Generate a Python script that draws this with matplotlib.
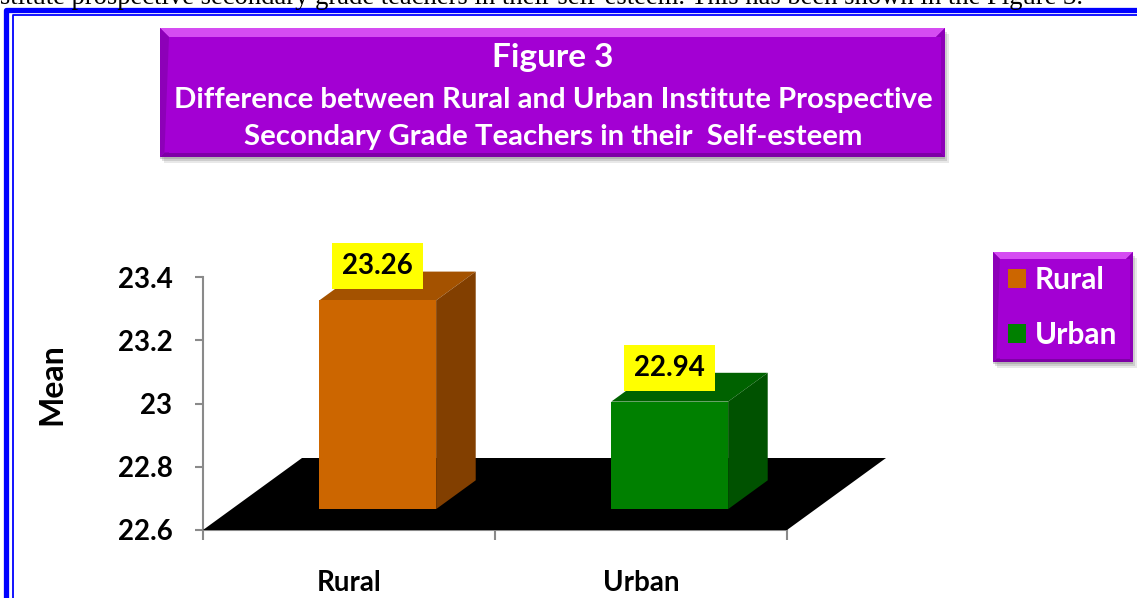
import matplotlib
matplotlib.use('Agg')
import matplotlib.pyplot as plt
from matplotlib.patches import Polygon, Rectangle

# ---------------- data ----------------
categories = ['Rural', 'Urban']
means = [23.26, 22.94]
value_labels = ['23.26', '22.94']
y_ticks = [22.6, 22.8, 23.0, 23.2, 23.4]
y_tick_labels = ['22.6', '22.8', '23', '23.2', '23.4']
title_lines = ['Figure 3',
               'Difference between Rural and Urban Institute Prospective',
               'Secondary Grade Teachers in their  Self-esteem']
y_label = 'Mean'
intro_text = ('institute prospective secondary grade teachers in their self-esteem. '
              'This has been shown in the Figure 3.')

# ---------------- styles ----------------
front_colors = ['#CC6600', '#008000']
top_colors = ['#A45200', '#006200']
side_colors = ['#823F00', '#005200']
FONT = 'Lato'
PURPLE = '#A300D3'

W, H = 1137, 598
fig = plt.figure(figsize=(W / 100, H / 100), dpi=100)
fig.patch.set_facecolor('white')


def fx(px):
    return px / W


def fy(py):
    return 1 - py / H


# background / decoration axes in pixel coordinates
bg = fig.add_axes([0, 0, 1, 1], zorder=0)
bg.set_xlim(0, W)
bg.set_ylim(H, 0)
bg.axis('off')

# intro text line (cut off at the top, as in the source page)
fig.text(fx(1083), fy(4), intro_text, ha='right', va='baseline',
         family='Liberation Serif', fontsize=19.2, color='black')

# blue double border
bg.plot([6, 6, 1200], [700, 10, 10], color='#0000FF', lw=3.8,
        solid_joinstyle='round', solid_capstyle='butt')
bg.plot([12.5, 12.5, 1200], [700, 15, 15], color='#0000FF', lw=1.3)


def bevel_box(x0, y0, x1, y1, b):
    for i, a in enumerate([0.18, 0.25, 0.35]):
        o = 6 - 2 * i
        bg.add_patch(Rectangle((x0 + o - 2, y0 + o), x1 - x0, y1 - y0,
                               color='#808080', alpha=a, lw=0))
    bg.add_patch(Rectangle((x0, y0), x1 - x0, y1 - y0, color=PURPLE, lw=0))
    bg.add_patch(Polygon([(x0, y0), (x1, y0), (x1 - b, y0 + b), (x0 + b, y0 + b)],
                         color='#D54CF2', lw=0))
    bg.add_patch(Polygon([(x0, y1), (x1, y1), (x1 - b / 2, y1 - b / 2), (x0 + b / 2, y1 - b / 2)],
                         color='#7E00A6', lw=0))
    bg.add_patch(Polygon([(x0, y0), (x0 + b, y0 + b), (x0 + b / 2, y1 - b / 2), (x0, y1)],
                         color='#8D00B8', lw=0))
    bg.add_patch(Polygon([(x1, y0), (x1 - b, y0 + b), (x1 - b / 2, y1 - b / 2), (x1, y1)],
                         color='#8D00B8', lw=0))
    bg.add_patch(Rectangle((x0 + b, y0 + b), x1 - x0 - 1.5 * b, y1 - y0 - 1.5 * b,
                           color=PURPLE, lw=0))


# title box
bevel_box(160, 28, 945, 157, 9)
bg.text(553, 57, title_lines[0], ha='center', va='center', color='white',
        family=FONT, weight='bold', fontsize=24)
bg.text(553, 100, title_lines[1], ha='center', va='center', color='white',
        family=FONT, weight='bold', fontsize=21.2)
bg.text(553, 137, title_lines[2], ha='center', va='center', color='white',
        family=FONT, weight='bold', fontsize=21.2)

# legend box
bevel_box(993, 252, 1133, 362, 7)

# ---------------- main chart axes ----------------
ax = fig.add_axes([fx(203), fy(530), (787 - 203) / W, (530 - 230) / H], zorder=2)
ax.patch.set_alpha(0)
px_per_cat = 292.0
px_per_unit = 253.0 / 0.8
base = y_ticks[0]
ax.set_xlim(0, len(categories))
ax.set_ylim(base, base + 300 / px_per_unit)

# depth (oblique projection) in data units
depth_dx = 99 / px_per_cat
depth_dy = 72 / px_per_unit
f_front, f_back = 0.29, 0.69
bar_w = 0.4

# floor
n = len(categories)
ax.add_patch(Polygon([(0, base), (n, base), (n + depth_dx, base + depth_dy),
                      (depth_dx, base + depth_dy)], closed=True, color='black',
                     lw=0, clip_on=False, zorder=1))

centers = [i + 0.5 for i in range(n)]
fdx, fdy = f_front * depth_dx, f_front * depth_dy
bdx, bdy = f_back * depth_dx, f_back * depth_dy
for i, (c, v) in enumerate(zip(centers, means)):
    xl = c + fdx - bar_w / 2
    xr = c + fdx + bar_w / 2
    y0 = base + fdy
    y1 = v + fdy
    ddx, ddy = bdx - fdx, bdy - fdy
    # top face
    ax.add_patch(Polygon([(xl, y1), (xr, y1), (xr + ddx, y1 + ddy), (xl + ddx, y1 + ddy)],
                         color=top_colors[i], lw=0, clip_on=False, zorder=2))
    # side face
    ax.add_patch(Polygon([(xr, y0), (xr + ddx, y0 + ddy), (xr + ddx, y1 + ddy), (xr, y1)],
                         color=side_colors[i], lw=0, clip_on=False, zorder=2))
    # front face
    ax.bar([c + fdx], [v - base], width=bar_w, bottom=y0, color=front_colors[i],
           label=categories[i], zorder=3, clip_on=False)
    # value label
    ax.annotate(value_labels[i], xy=(c + fdx, y1), xytext=(0, 24.5),
                textcoords='offset points', ha='center', va='center',
                family=FONT, weight='bold', fontsize=20, color='black', zorder=5,
                bbox=dict(boxstyle='square,pad=0.36', fc='#FFFF00', ec='none'),
                annotation_clip=False)

# axes styling
for s in ['top', 'right']:
    ax.spines[s].set_visible(False)
ax.spines['left'].set_bounds(y_ticks[0], y_ticks[-1])
ax.spines['bottom'].set_bounds(0, n)
for s in ['left', 'bottom']:
    ax.spines[s].set_color('#8A8A8A')
    ax.spines[s].set_linewidth(1.5)
    ax.spines[s].set_zorder(0.5)

ax.set_yticks(y_ticks)
ax.set_yticklabels(y_tick_labels, family=FONT, weight='bold', fontsize=20)
ax.tick_params(axis='y', length=6, width=1.5, color='#8A8A8A', pad=16)
ax.set_xticks(range(n + 1))
ax.set_xticklabels([''] * (n + 1))
ax.tick_params(axis='x', which='major', length=7, width=1.5, color='#8A8A8A')
ax.set_xticks(centers, minor=True)
ax.set_xticklabels(categories, minor=True, family=FONT, weight='bold', fontsize=20)
ax.tick_params(axis='x', which='minor', length=0, pad=29)

ax.set_ylabel(y_label, family=FONT, weight='bold', fontsize=23)
ax.yaxis.set_label_coords((66 - 203) / 584, (530 - 384) / 300)

# legend
leg = ax.legend(loc='upper left', bbox_to_anchor=(fx(1008), fy(266)),
                bbox_transform=fig.transFigure, frameon=False,
                prop=dict(family=FONT, weight='bold', size=21.5), labelcolor='white',
                handlelength=0.6, handleheight=0.6, handletextpad=0.3,
                labelspacing=0.92, borderpad=0, borderaxespad=0)

fig.savefig('out.png', dpi=100, facecolor='white')
